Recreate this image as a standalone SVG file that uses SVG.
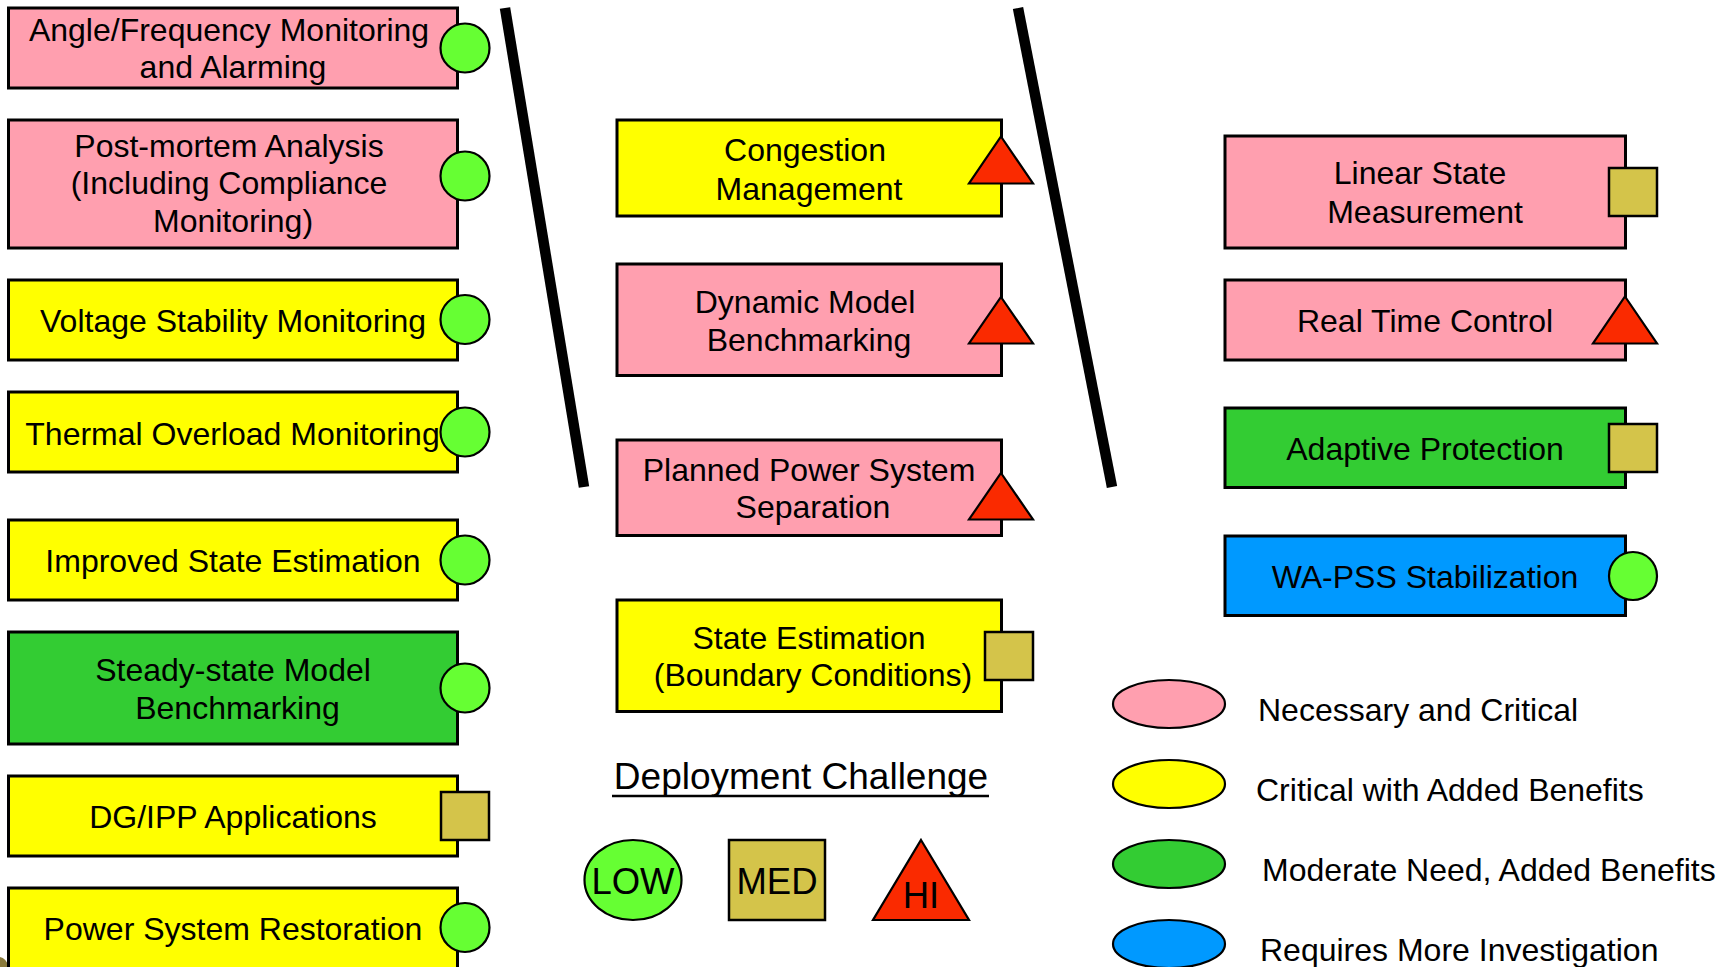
<svg xmlns="http://www.w3.org/2000/svg" width="1735" height="967" viewBox="0 0 1735 967">
<style>
.box{stroke:#000;stroke-width:3}
.pink{fill:#FF9FAF}
.yel{fill:#FFFF00}
.grn{fill:#33CC33}
.blu{fill:#0099FF}
.low{fill:#66FF33;stroke:#000;stroke-width:2.2}
.med{fill:#D4C44A;stroke:#000;stroke-width:2.5}
.hi{fill:#FA2A00;stroke:#000;stroke-width:2.2;stroke-linejoin:miter}
text{font-family:"Liberation Sans",Arial,sans-serif;font-size:32px;fill:#000}
.c{text-anchor:middle}
.sep{stroke:#000;stroke-width:10.5;stroke-linecap:butt}
.leg{stroke:#000;stroke-width:2.2}
</style>
<rect width="1735" height="967" fill="#fff"/>
<path d="M0,957 Q6,958 9,967 L0,967 Z" fill="#8a7a3a"/>

<g id="separators">
<line class="sep" x1="505" y1="8" x2="584" y2="487"/>
<line class="sep" x1="1018" y1="8" x2="1112" y2="487"/>
</g>

<g id="n-angle">
<rect class="box pink" x="8.5" y="8" width="449" height="80"/>
<text class="c" x="229" y="41">Angle/Frequency Monitoring</text>
<text class="c" x="233" y="78">and Alarming</text>
<circle class="low" cx="465" cy="48" r="24.5"/>
</g>
<g id="n-postmortem">
<rect class="box pink" x="8.5" y="120" width="449" height="128"/>
<text class="c" x="229" y="157">Post-mortem Analysis</text>
<text class="c" x="229" y="194">(Including Compliance</text>
<text class="c" x="233" y="231.5">Monitoring)</text>
<circle class="low" cx="465" cy="176" r="24.5"/>
</g>
<g id="n-voltage">
<rect class="box yel" x="8.5" y="280" width="449" height="80"/>
<text class="c" x="233" y="331.5">Voltage Stability Monitoring</text>
<circle class="low" cx="465" cy="319.5" r="24.5"/>
</g>
<g id="n-thermal">
<rect class="box yel" x="8.5" y="392" width="449" height="80"/>
<text class="c" x="232.5" y="444.5">Thermal Overload Monitoring</text>
<circle class="low" cx="465" cy="432" r="24.5"/>
</g>
<g id="n-improved">
<rect class="box yel" x="8.5" y="520" width="449" height="80"/>
<text class="c" x="233" y="571.5">Improved State Estimation</text>
<circle class="low" cx="465" cy="560" r="24.5"/>
</g>
<g id="n-steady">
<rect class="box grn" x="8.5" y="632" width="449" height="112"/>
<text class="c" x="233" y="680.5">Steady-state Model</text>
<text class="c" x="237.5" y="718.5">Benchmarking</text>
<circle class="low" cx="465" cy="688" r="24.5"/>
</g>
<g id="n-dgipp">
<rect class="box yel" x="8.5" y="776" width="449" height="80"/>
<text class="c" x="233" y="827.5">DG/IPP Applications</text>
<rect class="med" x="441" y="792" width="48" height="48"/>
</g>
<g id="n-restoration">
<rect class="box yel" x="8.5" y="888" width="449" height="100"/>
<text class="c" x="233" y="939.5">Power System Restoration</text>
<circle class="low" cx="465" cy="927.5" r="24.5"/>
</g>

<g id="n-congestion">
<rect class="box yel" x="617" y="120" width="384.5" height="96"/>
<text class="c" x="805" y="161">Congestion</text>
<text class="c" x="809" y="199.5">Management</text>
<polygon class="hi" points="1001,136.5 1033,183.5 969,183.5"/>
</g>
<g id="n-dynamic">
<rect class="box pink" x="617" y="264" width="384.5" height="111.5"/>
<text class="c" x="805" y="313">Dynamic Model</text>
<text class="c" x="809" y="350.5">Benchmarking</text>
<polygon class="hi" points="1001,297 1033,343.5 969,343.5"/>
</g>
<g id="n-planned">
<rect class="box pink" x="617" y="440" width="384.5" height="95.5"/>
<text class="c" x="809" y="480.5">Planned Power System</text>
<text class="c" x="813" y="518">Separation</text>
<polygon class="hi" points="1001,473 1033,519.5 969,519.5"/>
</g>
<g id="n-stateest">
<rect class="box yel" x="617" y="600" width="384.5" height="111.5"/>
<text class="c" x="809" y="648.5">State Estimation</text>
<text class="c" x="813" y="685.5">(Boundary Conditions)</text>
<rect class="med" x="985" y="632" width="48" height="48"/>
</g>

<g id="n-linear">
<rect class="box pink" x="1225" y="136" width="400.5" height="112"/>
<text class="c" x="1420" y="184">Linear State</text>
<text class="c" x="1425" y="222.5">Measurement</text>
<rect class="med" x="1609" y="168" width="48" height="48"/>
</g>
<g id="n-realtime">
<rect class="box pink" x="1225" y="280" width="400.5" height="80"/>
<text class="c" x="1425" y="331.5">Real Time Control</text>
<polygon class="hi" points="1625,296.5 1657,343.5 1593,343.5"/>
</g>
<g id="n-adaptive">
<rect class="box grn" x="1225" y="408" width="400.5" height="79.5"/>
<text class="c" x="1425" y="459.5">Adaptive Protection</text>
<rect class="med" x="1609" y="424" width="48" height="48"/>
</g>
<g id="n-wapss">
<rect class="box blu" x="1225" y="536" width="400.5" height="79.5"/>
<text class="c" x="1425" y="587.5">WA-PSS Stabilization</text>
<circle class="low" cx="1633" cy="576" r="24"/>
</g>

<g id="deployment-legend">
<text class="c" x="801" y="789" style="font-size:37px">Deployment Challenge</text>
<line x1="612" y1="796" x2="989" y2="796" stroke="#000" stroke-width="2.7"/>
<ellipse class="low" cx="633" cy="880" rx="48.5" ry="40"/>
<text class="c" x="633" y="893.5" style="font-size:36.5px">LOW</text>
<rect class="med" x="729" y="840" width="96" height="80"/>
<text class="c" x="777" y="893.5" style="font-size:36.5px">MED</text>
<polygon class="hi" points="921,840 969,920 873,920"/>
<text class="c" x="921" y="907.5" style="font-size:36.5px">HI</text>
</g>

<g id="color-legend">
<ellipse class="leg pink" cx="1169" cy="704" rx="56" ry="24"/>
<text x="1258" y="721">Necessary and Critical</text>
<ellipse class="leg yel" cx="1169" cy="784" rx="56" ry="24"/>
<text x="1256" y="801">Critical with Added Benefits</text>
<ellipse class="leg grn" cx="1169" cy="864" rx="56" ry="24"/>
<text x="1262" y="881">Moderate Need, Added Benefits</text>
<ellipse class="leg blu" cx="1169" cy="944" rx="56" ry="24"/>
<text x="1260" y="961">Requires More Investigation</text>
</g>
</svg>
